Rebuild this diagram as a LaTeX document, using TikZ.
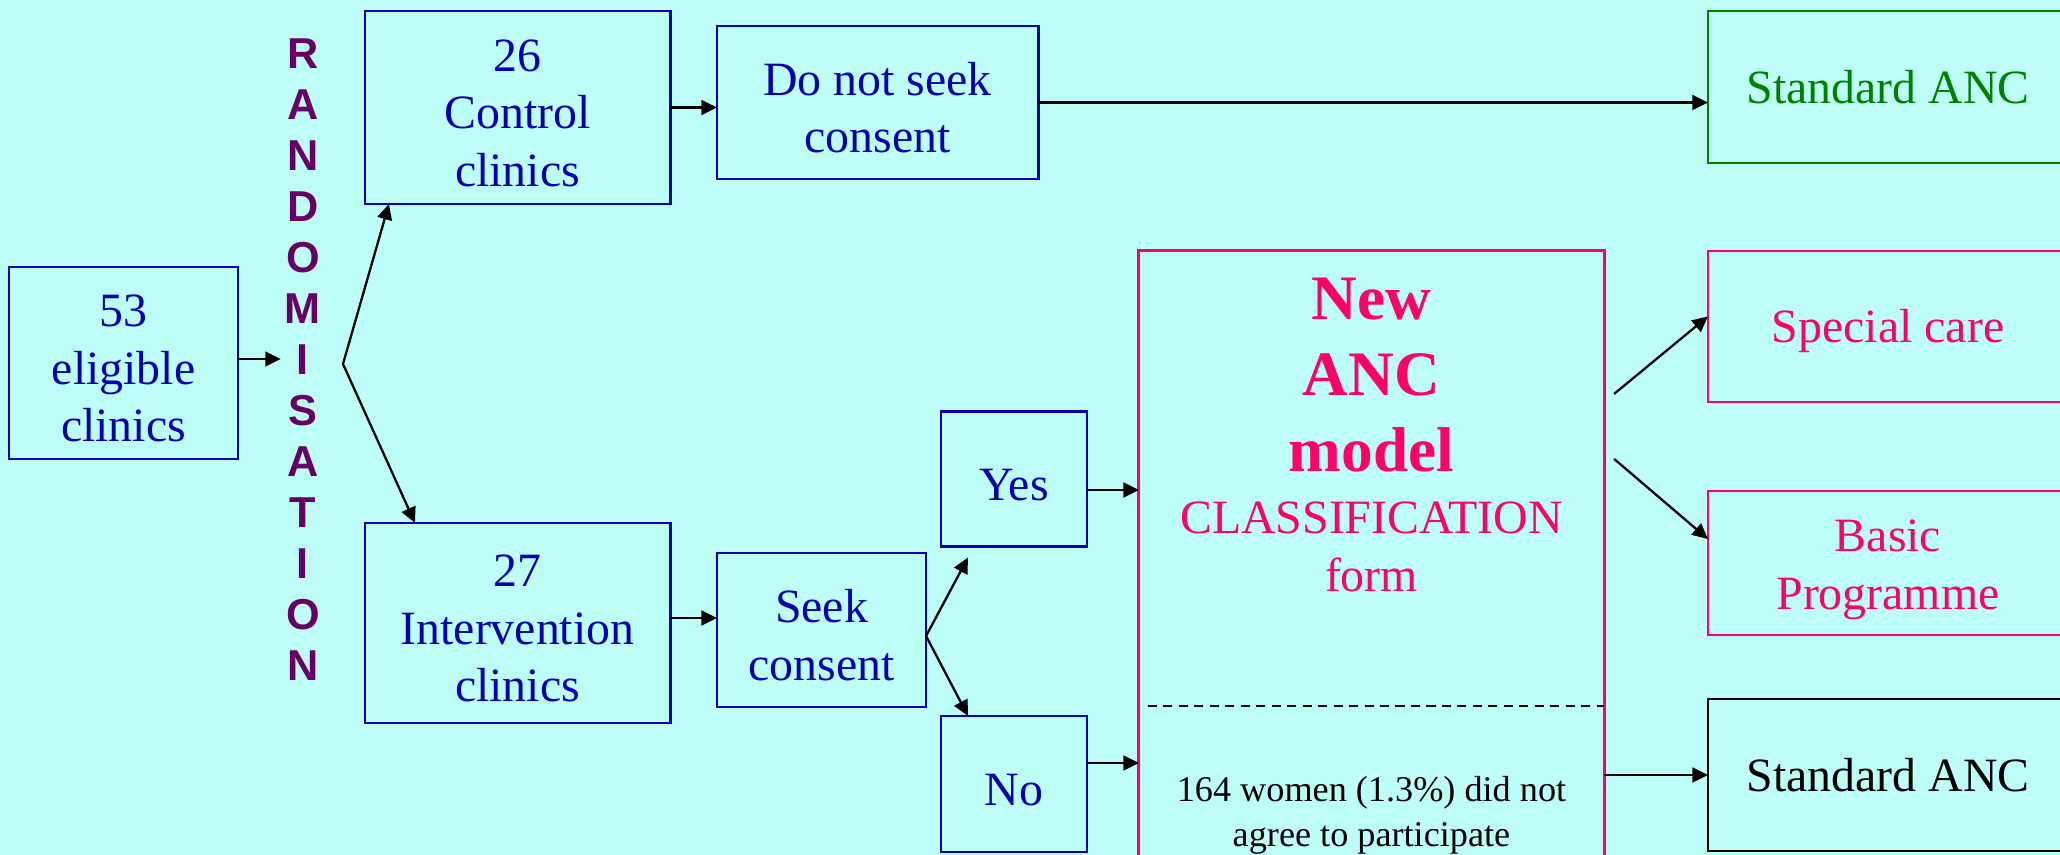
\documentclass[tikz,border=0pt]{standalone}
\usepackage{fontspec}
\setmainfont{Liberation Serif}
\setsansfont{Liberation Sans}
\usetikzlibrary{arrows.meta}
\definecolor{bgcyan}{HTML}{BDFFF7}
\definecolor{myblue}{RGB}{0,0,178}
\definecolor{mypink}{HTML}{FF0066}
\definecolor{mypurple}{HTML}{660066}
\definecolor{mygreen}{HTML}{008000}
\tikzset{
  boxbase/.style={line width=0.8pt, inner sep=0pt, outer sep=0pt, align=center,
    font=\fontsize{13.6}{16.4}\selectfont},
  bluebox/.style={boxbase, draw=myblue, text=myblue},
  pinkbox/.style={boxbase, draw=mypink, text=mypink},
  greenbox/.style={boxbase, draw=mygreen, text=mygreen},
  blackbox/.style={boxbase, draw=black, text=black},
  lower/.style={text height=12.1pt},
  lowertwo/.style={text height=28.7pt},
  lowerthree/.style={text height=45pt},
  wh/.style 2 args={minimum width=#1, minimum height=#2},
  arr/.style={-{Triangle[length=4.4pt,width=4.2pt]}, line width=0.65pt, black},
  arrboth/.style={{Triangle[length=4.4pt,width=4.2pt]}-{Triangle[length=4.4pt,width=4.2pt]}, line width=0.65pt, black},
}
\begin{document}
\begin{tikzpicture}[x=0.01cm,y=-0.01cm]
\useasboundingbox (0,0) rectangle (2060,855);
\clip (0,0) rectangle (2060,855);
\fill[bgcyan] (0,0) rectangle (2060,855);

% boxes
\node[bluebox, lowerthree, wh={2.29cm}{1.92cm}] (b53) at (123.5,363) {53\\eligible\\clinics};
\node[bluebox, lowerthree, wh={3.05cm}{1.93cm}] (c26) at (517.5,107.5) {26\\Control\\clinics};
\node[bluebox, lowertwo, wh={3.21cm}{1.53cm}] (dns) at (877.5,102.5) {Do not seek\\consent};
\node[greenbox, wh={3.60cm}{1.52cm}] (sanc1) at (1888,87) {Standard ANC};
\node[bluebox, lowerthree, wh={3.05cm}{2.00cm}] (c27) at (517.5,623) {27\\Intervention\\clinics};
\node[bluebox, lowertwo, wh={2.09cm}{1.54cm}] (seek) at (821.5,630) {Seek\\consent};
\node[bluebox, lower, wh={1.46cm}{1.35cm}] (yes) at (1014,479) {Yes};
\node[bluebox, lower, wh={1.46cm}{1.36cm}] (no) at (1014,784) {No};
\node[pinkbox, wh={4.65cm}{6.24cm}] (anc) at (1371.5,563) {};
\node[pinkbox, lower, wh={3.60cm}{1.51cm}] (special) at (1888,326.5) {Special care};
\node[pinkbox, text height=29.4pt, wh={3.60cm}{1.44cm}] (basic) at (1888,563) {Basic\\Programme};
\node[blackbox, wh={3.60cm}{1.52cm}] (sanc2) at (1888,775) {Standard ANC};

% texts inside the big box
\node[anchor=north, align=center, text=mypink, inner sep=0pt,
  font=\fontsize{18}{21.6}\selectfont\bfseries] (newanc) at ([yshift=-0.27cm]anc.north) {New\\ANC\\model};
\node[anchor=north, align=center, text=mypink, inner sep=0pt,
  font=\fontsize{13.6}{16.4}\selectfont] (classif) at ([yshift=-2.5cm]anc.north) {CLASSIFICATION\\form};
\node[anchor=north, align=center, text=black, inner sep=0pt,
  font=\fontsize{10.3}{12.8}\selectfont] (decline) at ([yshift=-5.25cm]anc.north) {164 women (1.3\%) did not\\agree to participate};
\coordinate (dl) at (0,706);
\draw[dashed, dash pattern=on 2.6pt off 1.8pt, line width=0.6pt] ([xshift=0.09cm]anc.west |- dl) -- (anc.east |- dl);

% randomisation
\node[align=center, text=mypurple, inner sep=1pt,
  font=\sffamily\bfseries\fontsize{12.3}{14.5}\selectfont] (rand) at (303,360)
  {R\\A\\N\\D\\O\\M\\I\\S\\A\\T\\I\\O\\N};
\coordinate (br) at (343,364);

% connectors
\draw[arr] ([yshift=0.04cm]b53.east) -- ([yshift=0.04cm]b53.east -| rand.west);
\draw[arrboth] ([xshift=0.24cm]c26.south west) -- (br) -- ([xshift=0.5cm]c27.north west);
\draw[arr] (c26.east) -- (c26.east -| dns.west);
\draw[arr] (dns.east) -- (dns.east -| sanc1.west);
\draw[arr] ([yshift=0.05cm]c27.east) -- ([yshift=0.05cm]c27.east -| seek.west);
\draw[arrboth] ([xshift=0.27cm,yshift=-0.11cm]yes.south west) -- ([yshift=-0.06cm]seek.east) -- ([xshift=0.27cm]no.north west);
\draw[arr] ([yshift=-0.11cm]yes.east) -- ([yshift=-0.11cm]yes.east -| anc.west);
\draw[arr] ([yshift=0.21cm]no.east) -- ([yshift=0.21cm]no.east -| anc.west);
\draw[arr] ([shift={(0.1cm,-1.43cm)}]anc.north east) -- ([yshift=0.1cm]special.west);
\draw[arr] ([shift={(0.1cm,-2.08cm)}]anc.north east) -- ([yshift=0.24cm]basic.west);
\draw[arr] (sanc2.west -| anc.east) -- (sanc2.west);
\end{tikzpicture}
\end{document}
